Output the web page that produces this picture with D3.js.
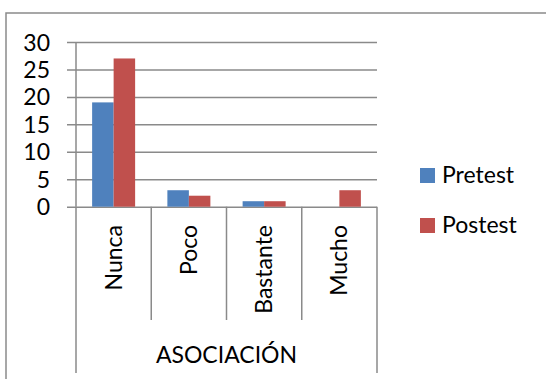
<!DOCTYPE html>
<html>
<head>
<meta charset="utf-8">
<script src="https://cdn.jsdelivr.net/npm/d3@7"></script>
<style>
  html, body { margin: 0; padding: 0; background: #fff; }
  svg { display: block; }
  text { font-family: Lato, "Open Sans", sans-serif; fill: #000; }
</style>
</head>
<body>
<svg id="chart" width="546" height="379"></svg>
<script>
// Responses per category, before and after the intervention
const categories = ["Nunca", "Poco", "Bastante", "Mucho"];
const seriesNames = ["Pretest", "Postest"];
const pretest = [19, 3, 1, 0];
const postest = [27, 2, 1, 3];
const yTicks = [0, 5, 10, 15, 20, 25, 30];
const groupLabel = "ASOCIACIÓN";

const colors = ["#4F81BD", "#C0504D"];
const gridColor = "#8a8a8a";
const fontSize = 23;

const svg = d3.select("#chart");

// Outer chart frame (extends past the right and bottom edges)
svg.append("rect")
  .attr("x", 6).attr("y", 13)
  .attr("width", 600).attr("height", 400)
  .attr("fill", "none").attr("stroke", gridColor).attr("stroke-width", 1.5);

const plot = { left: 76, right: 377, top: 42, bottom: 206.7 };

const x = d3.scaleBand().domain(categories).range([plot.left, plot.right]).padding(0);
// bars: gap width 150% of a bar, two bars per group
const barW = x.bandwidth() / 3.5;
const xs = d3.scaleBand().domain(seriesNames)
  .range([barW * 0.75, barW * 2.75]).padding(0);
const y = d3.scaleLinear().domain([0, 30]).range([plot.bottom, plot.top]);

// Horizontal gridlines with outward tick marks on the value axis
const yAxis = d3.axisLeft(y).tickValues(yTicks).tickSize(0).tickFormat(d3.format("d"));
const yg = svg.append("g").attr("transform", `translate(${plot.left},0)`).call(yAxis);
yg.select(".domain").remove();
yg.selectAll(".tick text")
  .attr("x", -26).attr("dy", "0.35em")
  .style("font-size", fontSize + "px").style("font-family", "Lato, sans-serif");
yg.selectAll(".tick").append("line")
  .attr("x1", -9).attr("x2", plot.right - plot.left)
  .attr("stroke", gridColor).attr("stroke-width", 1.5);

// Value axis line
svg.append("line")
  .attr("x1", plot.left).attr("x2", plot.left)
  .attr("y1", plot.top).attr("y2", plot.bottom)
  .attr("stroke", gridColor).attr("stroke-width", 1.5);

// Bars
const rows = categories.map((c, i) => ({ cat: c, vals: [pretest[i], postest[i]] }));
const groups = svg.append("g").selectAll("g").data(rows).join("g")
  .attr("transform", d => `translate(${x(d.cat)},0)`);
groups.selectAll("rect")
  .data(d => d.vals.map((v, j) => ({ name: seriesNames[j], v, j })))
  .join("rect")
  .attr("x", d => xs(d.name))
  .attr("width", xs.bandwidth())
  .attr("y", d => y(d.v))
  .attr("height", d => y(0) - y(d.v))
  .attr("fill", d => colors[d.j]);

// Category axis: inner separators and outer boundaries of the two-level axis
const innerBottom = 320, outerBottom = 373;
const bounds = categories.map(c => x(c)).concat([plot.right]);
svg.append("g").selectAll("line").data(bounds).join("line")
  .attr("x1", d => d).attr("x2", d => d)
  .attr("y1", plot.bottom)
  .attr("y2", (d, i) => (i === 0 || i === bounds.length - 1) ? outerBottom : innerBottom)
  .attr("stroke", gridColor).attr("stroke-width", 1.5);

// Rotated category labels
svg.append("g").selectAll("text").data(categories).join("text")
  .attr("transform", d => `translate(${x(d) + x.bandwidth() / 2 + 8},225) rotate(-90)`)
  .attr("text-anchor", "end")
  .style("font-size", fontSize + "px")
  .text(d => d);

// Outer group label
svg.append("text")
  .attr("x", (plot.left + plot.right) / 2).attr("y", 363)
  .attr("text-anchor", "middle")
  .style("font-size", fontSize + "px")
  .text(groupLabel);

// Legend
const legend = svg.append("g").selectAll("g").data(seriesNames).join("g")
  .attr("transform", (d, i) => `translate(420,${168 + i * 50})`);
legend.append("rect").attr("width", 15).attr("height", 15)
  .attr("fill", (d, i) => colors[i]);
legend.append("text").attr("x", 22).attr("y", 15)
  .style("font-size", fontSize + "px")
  .text(d => d);
</script>
</body>
</html>
